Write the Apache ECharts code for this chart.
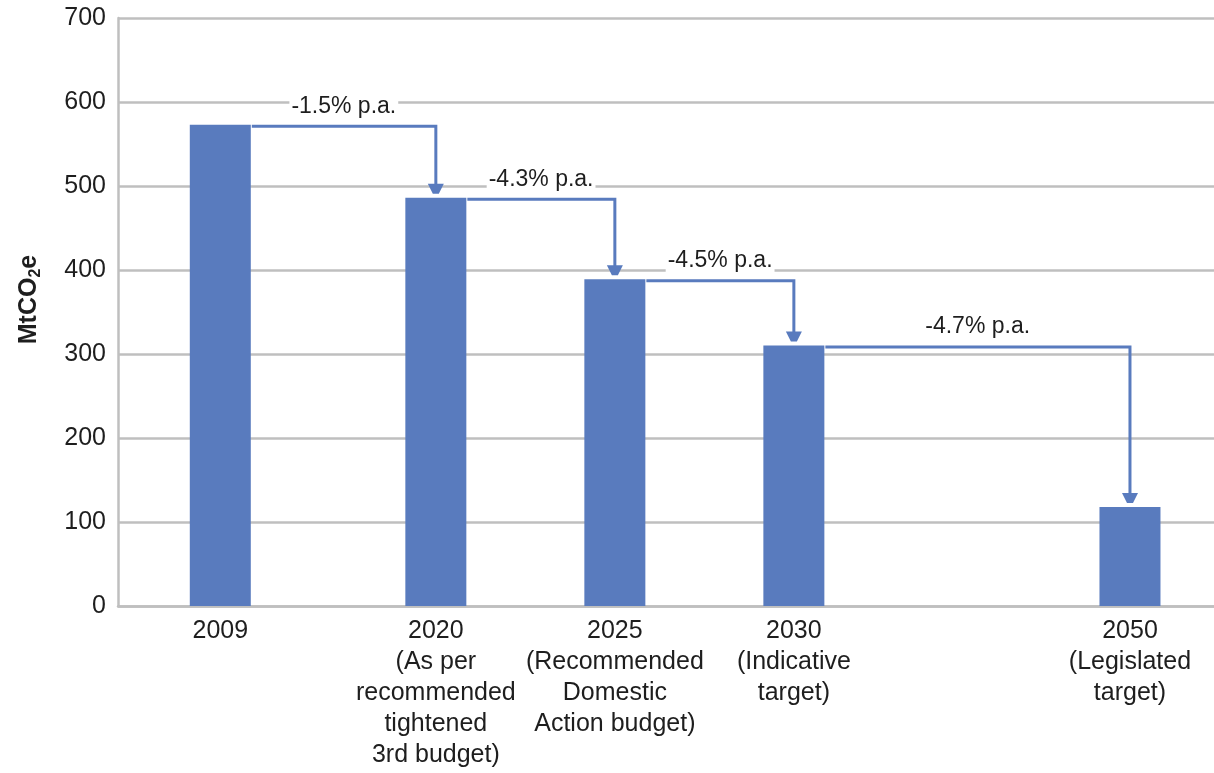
<!DOCTYPE html>
<html>
<head>
<meta charset="utf-8">
<title>Emissions pathway</title>
<script src="https://cdn.jsdelivr.net/npm/echarts@6/dist/echarts.min.js"></script>
<style>
  html, body { margin: 0; padding: 0; background: #ffffff; }
  #chart { width: 1214px; height: 773px; }
</style>
</head>
<body>
<div id="chart"></div>
<script>
// Category labels (one per column)
const categories = [
  '2009',
  '2020\n(As per\nrecommended\ntightened\n3rd budget)',
  '2025\n(Recommended\nDomestic\nAction budget)',
  '2030\n(Indicative\ntarget)',
  '2050\n(Legislated\ntarget)'
];

// Emissions, MtCO2e
const emissions = [573, 486, 389, 310, 118];

// Annual rate of reduction between consecutive columns
const rateLabels = ['-1.5% p.a.', '-4.3% p.a.', '-4.5% p.a.', '-4.7% p.a.'];

// Y axis ticks
const yMin = 0;
const yMax = 700;
const yStep = 100;

// Column placement along the (unlabelled) horizontal axis
const columnSlots = [2.8, 8.7, 13.6, 18.5, 27.7];
const slotMax = 30;

const FONT = '"Liberation Sans", Arial, sans-serif';
const BAR_COLOR = '#597bbe';
const GRID_COLOR = '#bfbfbf';
const TEXT_COLOR = '#1e1e1e';
const BAR_WIDTH = 61;

const barData = columnSlots.map((x, i) => [x, emissions[i]]);
const stepData = rateLabels.map((_, i) => [
  columnSlots[i], emissions[i], columnSlots[i + 1], emissions[i + 1]
]);

function labelForSlot(v) {
  let best = 0;
  columnSlots.forEach((s, i) => {
    if (Math.abs(s - v) < Math.abs(columnSlots[best] - v)) best = i;
  });
  return categories[best];
}

const chart = echarts.init(document.getElementById('chart'), null, { renderer: 'canvas' });

chart.setOption({
  animation: false,
  backgroundColor: '#ffffff',
  grid: { left: 118, right: 0, top: 18, bottom: 167, outerBoundsMode: 'none' },
  xAxis: {
    type: 'value',
    min: 0,
    max: slotMax,
    splitLine: { show: false },
    axisTick: { show: false },
    axisLine: { show: true, lineStyle: { color: GRID_COLOR, width: 2.5 } },
    axisLabel: {
      customValues: columnSlots,
      formatter: labelForSlot,
      fontFamily: FONT,
      fontSize: 25,
      lineHeight: 31,
      color: TEXT_COLOR,
      margin: 10,
      align: 'center'
    }
  },
  yAxis: {
    type: 'value',
    min: yMin,
    max: yMax,
    interval: yStep,
    name: '{m|MtCO}{s|2}{m|e}',
    nameLocation: 'middle',
    nameGap: 74,
    nameRotate: 90,
    nameTextStyle: {
      padding: [0, 0, 0, 25],
      rich: {
        m: { fontFamily: FONT, fontSize: 25, fontWeight: 'bold', color: TEXT_COLOR, lineHeight: 30 },
        s: { fontFamily: FONT, fontSize: 16, fontWeight: 'bold', color: TEXT_COLOR, lineHeight: 30, verticalAlign: 'bottom' }
      }
    },
    axisTick: { show: false },
    axisLine: { show: true, lineStyle: { color: GRID_COLOR, width: 2.5 } },
    splitLine: { show: true, lineStyle: { color: GRID_COLOR, width: 2.5 } },
    axisLabel: {
      fontFamily: FONT,
      fontSize: 25,
      color: TEXT_COLOR,
      margin: 12
    }
  },
  series: [
    {
      type: 'bar',
      data: barData,
      barWidth: BAR_WIDTH,
      itemStyle: { color: BAR_COLOR },
      z: 2
    },
    {
      // Step connectors with arrows and the rate of change above each
      type: 'custom',
      coordinateSystem: 'cartesian2d',
      data: stepData,
      clip: false,
      z: 3,
      renderItem(params, api) {
        const a = api.coord([api.value(0), api.value(1)]);
        const b = api.coord([api.value(2), api.value(3)]);
        const lw = 3;
        const x0 = a[0] + BAR_WIDTH / 2 + 1;
        const yLine = a[1] + lw / 2;
        const tipY = b[1] - 4;
        const head = 10;
        return {
          type: 'group',
          children: [
            {
              type: 'text',
              style: {
                text: rateLabels[params.dataIndex],
                x: (x0 + b[0]) / 2,
                y: yLine - 20,
                align: 'center',
                verticalAlign: 'middle',
                fill: TEXT_COLOR,
                font: '23px ' + FONT,
                backgroundColor: '#ffffff',
                padding: [0, 2]
              }
            },
            {
              type: 'polyline',
              shape: { points: [[x0, yLine], [b[0], yLine], [b[0], tipY - head + 1]] },
              style: { stroke: BAR_COLOR, lineWidth: lw, fill: null, lineJoin: 'miter' }
            },
            {
              type: 'polygon',
              shape: {
                points: [
                  [b[0] - 8, tipY - head],
                  [b[0] + 8, tipY - head],
                  [b[0] + 3, tipY],
                  [b[0] - 3, tipY]
                ]
              },
              style: { fill: BAR_COLOR }
            }
          ]
        };
      }
    }
  ]
});
</script>
</body>
</html>
